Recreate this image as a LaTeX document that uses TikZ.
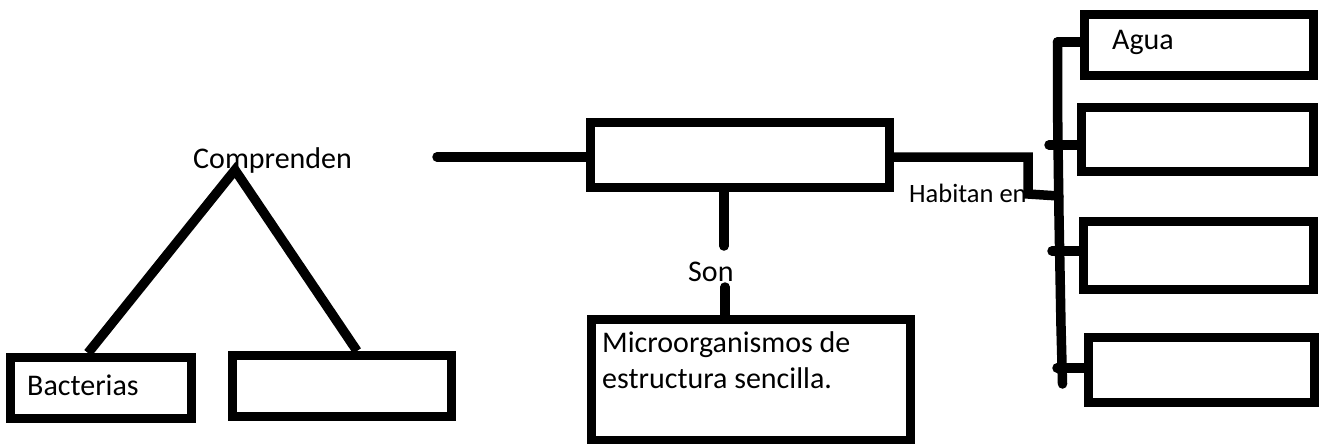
\documentclass[tikz,border=0pt]{standalone}
\usepackage{fontspec}
\setmainfont{Carlito}
\begin{document}
\begin{tikzpicture}[x=1pt,y=-1pt,
  box/.style={draw,line width=9pt,rectangle,inner sep=0pt},
  conn/.style={line width=9.5pt,line cap=round,line join=round},
  lbl/.style={inner sep=0pt,anchor=base west,font=\fontsize{30}{36}\selectfont},
  small/.style={inner sep=0pt,anchor=base west,font=\fontsize{26.5}{30}\selectfont}]
\useasboundingbox (0,0) rectangle (1319,444);
% boxes
\node[box,minimum width=181pt,minimum height=61pt] (bact) at (101,388) {};
\node[box,minimum width=219pt,minimum height=61pt] (b2) at (342,386) {};
\node[box,minimum width=299pt,minimum height=65pt] (top) at (740,155) {};
\node[box,minimum width=319pt,minimum height=121pt] (micro) at (751,380) {};
\node[box,minimum width=229pt,minimum height=61pt] (agua) at (1199,45) {};
\node[box,minimum width=232pt,minimum height=64pt] (r2) at (1197,139.5) {};
\node[box,minimum width=230pt,minimum height=68pt] (r3) at (1198,255.5) {};
\node[box,minimum width=226pt,minimum height=65pt] (r4) at (1201.5,370) {};
% texts
\node[lbl] (comp) at (193,168) {Comprenden};
\node[lbl] (tbact) at (27,395) {Bacterias};
\node[lbl] (son) at (688,281) {Son};
\node[lbl] (tagua) at (1112,50) {Agua};
\node[lbl,align=left] (tmicro) at (602,388) {Microorganismos de\\estructura sencilla.};
\node[small] (hab) at (909,202) {Habitan en};
% coordinates
\coordinate (apex) at (235,170);
\coordinate (lstart) at (437,157);
\coordinate (sonup) at (724,246);
\coordinate (sondown) at (725,287);
\coordinate (hA) at (1028,157);
\coordinate (hB) at (1028,194);
\coordinate (hC) at (1059,196);
\coordinate (bar1) at (1057.5,42);
\coordinate (bar2) at (1057.5,105);
\coordinate (bar3) at (1059,217);
\coordinate (bar4) at (1061,327);
\coordinate (bar5) at (1062.5,384);
\coordinate (t2) at (1049,145);
\coordinate (t3) at (1052,251);
\coordinate (t4) at (1057,368);
% connectors
\draw[conn,line join=miter,line cap=butt] ([xshift=-13pt]bact.north) -- (apex) -- ([xshift=15pt]b2.north);
\draw[conn] (lstart) -- (lstart -| top.west);
\draw[conn] ([xshift=-16pt]top.south) -- (sonup);
\draw[conn] (sondown) -- (sondown |- micro.north);
\draw[conn,line join=miter] ([yshift=-2pt]top.east) -- (hA) -- (hB) -- (hC);
\draw[conn] (bar1) -- (bar2) -- (bar3) -- (bar4) -- (bar5);
\draw[conn] (bar1) -- (bar1 -| agua.west);
\draw[conn] (t2) -- (t2 -| r2.west);
\draw[conn] (t3) -- (t3 -| r3.west);
\draw[conn] (t4) -- (t4 -| r4.west);
\end{tikzpicture}
\end{document}
